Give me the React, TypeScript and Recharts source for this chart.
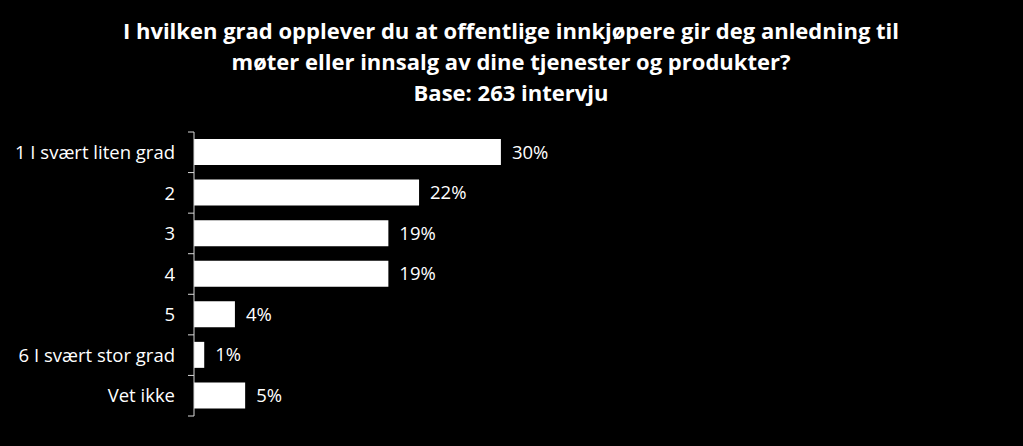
import React from "react";
import { BarChart, Bar, XAxis, YAxis, LabelList } from "recharts";

const categories = [
  "1 I svært liten grad",
  "2",
  "3",
  "4",
  "5",
  "6 I svært stor grad",
  "Vet ikke",
];
const values = [30, 22, 19, 19, 4, 1, 5];
const titleLines = [
  "I hvilken grad opplever du at offentlige innkjøpere gir deg anledning til",
  "møter eller innsalg av dine tjenester og produkter?",
  "Base: 263 intervju",
];

const data = categories.map((c, i) => ({ name: c, value: values[i] }));

const W = 1023;
const H = 446;
const TOP = 132;
const BOTTOM = 30;
const PLOT_LEFT = 194;
const BAND = (H - TOP - BOTTOM) / categories.length;
const FONT = "'Open Sans', 'Noto Sans', sans-serif";

const CatTick = (props: any) => {
  const { y, payload, index } = props;
  const lines = [
    <line key="t" x1={PLOT_LEFT - 6} x2={PLOT_LEFT} y1={y - BAND / 2} y2={y - BAND / 2} stroke="#d9d9d9" strokeWidth={1} />,
  ];
  if (index === categories.length - 1) {
    lines.push(
      <line key="b" x1={PLOT_LEFT - 6} x2={PLOT_LEFT} y1={y + BAND / 2} y2={y + BAND / 2} stroke="#d9d9d9" strokeWidth={1} />
    );
  }
  return (
    <g>
      {lines}
      <text x={PLOT_LEFT - 19} y={y} dy="0.36em" textAnchor="end" fill="#ffffff" fontSize={18.5} fontFamily={FONT}>
        {payload.value}
      </text>
    </g>
  );
};

export default function App() {
  return (
    <div style={{ position: "fixed", left: 0, top: 0, width: W, height: H, background: "#000000", overflow: "hidden" }}>
      <div
        style={{
          position: "absolute",
          left: 0,
          top: 15,
          width: W - 1,
          textAlign: "center",
          color: "#ffffff",
          fontFamily: FONT,
          fontWeight: 700,
          fontSize: 22,
          lineHeight: "31px",
        }}
      >
        {titleLines.map((t, i) => (
          <div key={i}>{t}</div>
        ))}
      </div>
      <div style={{ position: "absolute", left: 0, top: 0 }}>
        <BarChart
          width={W}
          height={H}
          data={data}
          layout="vertical"
          margin={{ top: TOP, right: W - PLOT_LEFT - 511.5, bottom: BOTTOM, left: 4 }}
          barCategoryGap={0}
        >
          <XAxis type="number" domain={[0, 50]} hide />
          <YAxis
            type="category"
            dataKey="name"
            width={PLOT_LEFT - 4}
            axisLine={{ stroke: "#d9d9d9", strokeWidth: 1 }}
            tickLine={false}
            tick={<CatTick />}
            interval={0}
          />
          <Bar dataKey="value" fill="#ffffff" barSize={26} isAnimationActive={false}>
            <LabelList
              dataKey="value"
              position="right"
              offset={11}
              fill="#ffffff"
              fontSize={18.5}
              fontFamily={FONT}
              formatter={(v: any) => `${v}%`}
            />
          </Bar>
        </BarChart>
      </div>
    </div>
  );
}
